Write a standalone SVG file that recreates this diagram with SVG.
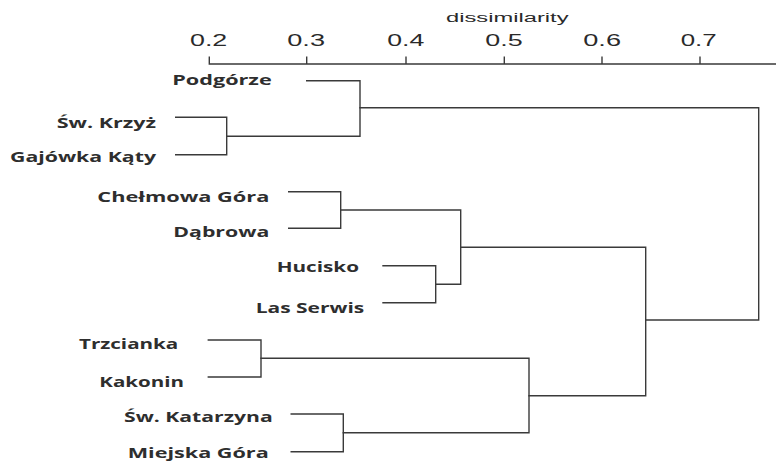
<svg xmlns="http://www.w3.org/2000/svg" width="776" height="461" viewBox="0 0 776 461">
  <style>
    .ln { fill: none; stroke: #3a3a3a; stroke-width: 1.4; stroke-linecap: square; }
    .lab { font-family: "Open Sans", "DejaVu Sans", sans-serif; font-weight: 700; font-size: 13.5px; fill: #2e2e2e; }
    .tick { font-family: "Liberation Sans", Arial, sans-serif; font-size: 16px; fill: #2a2a2a; }
    .title { font-family: "Liberation Sans", Arial, sans-serif; font-size: 12.5px; fill: #2a2a2a; }
  </style>
  <rect width="776" height="461" fill="#ffffff"/>
  <g id="axis">
    <path class="ln" d="M209.3,57.3 V64 H776 M306.7,57.3 V64 M406,57.3 V64 M504.3,57.3 V64 M602,57.3 V64 M700,57.3 V64"/>
    <text class="title" x="446" y="21.7" textLength="122.5" lengthAdjust="spacingAndGlyphs">dissimilarity</text>
    <text class="tick" x="190" y="45.7" textLength="37.3" lengthAdjust="spacingAndGlyphs">0.2</text>
    <text class="tick" x="287.3" y="45.7" textLength="37.7" lengthAdjust="spacingAndGlyphs">0.3</text>
    <text class="tick" x="387.3" y="45.7" textLength="37" lengthAdjust="spacingAndGlyphs">0.4</text>
    <text class="tick" x="485.3" y="45.7" textLength="37.4" lengthAdjust="spacingAndGlyphs">0.5</text>
    <text class="tick" x="583.3" y="45.7" textLength="37.7" lengthAdjust="spacingAndGlyphs">0.6</text>
    <text class="tick" x="680.7" y="45.7" textLength="36" lengthAdjust="spacingAndGlyphs">0.7</text>
  </g>
  <g id="connectors">
    <path class="ln" d="M306.7,80.7 H360 V136.3 H226.7"/>
    <path class="ln" d="M175.7,117.3 H226.7 V154.7 H175.7"/>
    <path class="ln" d="M360,107.7 H758.7 V320 H645.7"/>
    <path class="ln" d="M288.7,191.7 H340.7 V228.3 H288.7"/>
    <path class="ln" d="M340.7,210 H460.7 V284.3 H435.7"/>
    <path class="ln" d="M383,265.7 H435.7 V302.7 H383"/>
    <path class="ln" d="M460.7,247.3 H645.7 V395.7 H529"/>
    <path class="ln" d="M208.3,340 H261 V377 H208.3"/>
    <path class="ln" d="M261,358.3 H529 V432.7 H343.3"/>
    <path class="ln" d="M291.2,414 H343.3 V451.7 H291.2"/>
  </g>
  <g id="node-podgorze"><text class="lab" x="172.3" y="85" textLength="99.4" lengthAdjust="spacingAndGlyphs">Podgórze</text></g>
  <g id="node-sw-krzyz"><text class="lab" x="56.7" y="127.5" textLength="99.3" lengthAdjust="spacingAndGlyphs">Św. Krzyż</text></g>
  <g id="node-gajowka-katy"><text class="lab" x="10" y="162.3" textLength="146" lengthAdjust="spacingAndGlyphs">Gajówka Kąty</text></g>
  <g id="node-chelmowa-gora"><text class="lab" x="97.3" y="201.7" textLength="172" lengthAdjust="spacingAndGlyphs">Chełmowa Góra</text></g>
  <g id="node-dabrowa"><text class="lab" x="173.3" y="236.7" textLength="96" lengthAdjust="spacingAndGlyphs">Dąbrowa</text></g>
  <g id="node-hucisko"><text class="lab" x="276.7" y="272.3" textLength="82.3" lengthAdjust="spacingAndGlyphs">Hucisko</text></g>
  <g id="node-las-serwis"><text class="lab" x="255.7" y="312.7" textLength="108.6" lengthAdjust="spacingAndGlyphs">Las Serwis</text></g>
  <g id="node-trzcianka"><text class="lab" x="79" y="349.3" textLength="99.3" lengthAdjust="spacingAndGlyphs">Trzcianka</text></g>
  <g id="node-kakonin"><text class="lab" x="99.3" y="386.7" textLength="84.7" lengthAdjust="spacingAndGlyphs">Kakonin</text></g>
  <g id="node-sw-katarzyna"><text class="lab" x="124" y="421.7" textLength="148.7" lengthAdjust="spacingAndGlyphs">Św. Katarzyna</text></g>
  <g id="node-miejska-gora"><text class="lab" x="127.7" y="458" textLength="141" lengthAdjust="spacingAndGlyphs">Miejska Góra</text></g>
</svg>
